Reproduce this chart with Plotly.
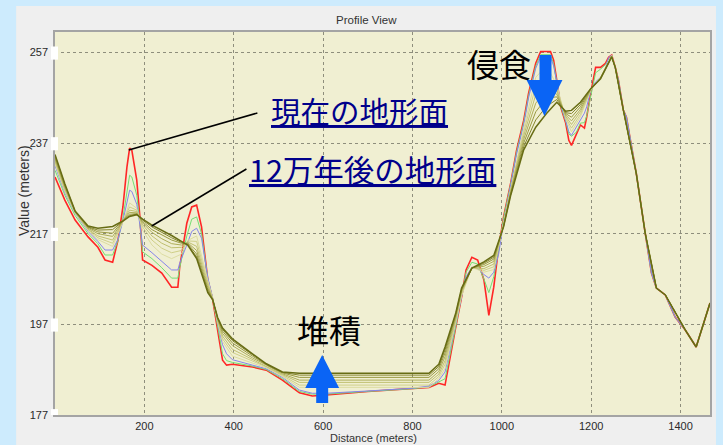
import plotly.graph_objects as go

# ---------------- data ----------------
distance = [0, 22, 45, 74, 96, 112, 129, 141, 152, 161, 167, 172, 183, 190, 196, 217, 239, 261, 275, 279,
            295, 306, 317, 328, 342, 353, 364, 375, 384, 397, 442, 473, 509, 547, 576, 607, 700, 800, 837, 859,
            873, 897, 910, 920, 933, 946, 960, 971, 982, 993, 1004, 1020, 1033, 1049, 1060, 1076, 1087, 1109,
            1116, 1123, 1132, 1143, 1150, 1156, 1167, 1176, 1185, 1190, 1199, 1210, 1221, 1232, 1239, 1246,
            1254, 1261, 1272, 1279, 1288, 1301, 1321, 1335, 1346, 1366, 1388, 1411, 1435, 1451, 1466]

elev_now = [229.5, 224.4, 220.0, 216.3, 214.0, 211.2, 210.7, 215.6, 222.9, 231.7, 235.9, 235.4, 228.8, 220.7,
            211.2, 210.0, 208.3, 205.2, 205.2, 209.6, 219.3, 222.9, 223.3, 218.5, 206.8, 202.4, 195.7, 189.1,
            188.0, 188.2, 187.6, 186.9, 184.7, 181.9, 181.2, 181.4, 182.2, 182.8, 183.1, 184.0, 183.6, 196.4,
            203.0, 209.0, 211.8, 211.2, 206.8, 199.0, 205.2, 214.0, 220.7, 228.2, 235.4, 242.0, 248.0, 254.6,
            257.2, 257.2, 255.3, 250.9, 244.9, 241.4, 237.6, 236.5, 239.2, 241.0, 240.3, 242.7, 248.0, 253.7,
            253.7, 254.6, 255.9, 256.4, 253.7, 250.9, 244.3, 242.7, 237.6, 230.3, 217.1, 208.3, 205.0, 203.5,
            198.6, 195.7, 192.0, 197.3, 201.7]

elev_stage2 = [231.0, 225.5, 221.0, 217.0, 214.8, 212.3, 212.3, 215.5, 220.5, 226.5, 229.9, 229.5, 225.5, 219.5,
               213.0, 211.5, 209.5, 207.2, 207.2, 209.5, 216.5, 220.2, 220.7, 217.0, 207.0, 202.6, 196.5, 190.5,
               189.0, 188.6, 187.8, 187.0, 185.0, 182.2, 181.6, 181.6, 182.2, 182.8, 183.2, 184.2, 185.0, 196.5,
               203.0, 208.5, 210.7, 210.3, 207.0, 204.0, 207.5, 213.5, 220.5, 228.0, 235.0, 241.5, 247.5, 254.0,
               256.5, 256.5, 254.5, 250.5, 245.0, 241.8, 239.0, 238.5, 239.4, 241.4, 241.5, 243.0, 247.5, 252.5,
               253.3, 254.3, 255.5, 256.2, 253.7, 250.9, 244.3, 242.7, 237.6, 230.3, 217.1, 208.3, 205.0, 203.5,
               198.6, 195.7, 192.0, 197.3, 201.7]

elev_stage3 = [232.0, 226.0, 221.5, 217.5, 215.3, 213.4, 213.4, 215.8, 219.8, 224.0, 226.6, 226.3, 223.5, 219.0,
               214.5, 212.8, 211.0, 209.0, 209.0, 210.5, 214.5, 217.5, 218.2, 216.0, 207.3, 202.8, 197.3, 192.5,
               190.5, 189.2, 188.0, 187.2, 185.3, 182.5, 181.8, 181.8, 182.3, 182.9, 183.4, 184.6, 186.5, 197.0,
               203.0, 207.5, 209.6, 209.3, 208.0, 207.2, 208.5, 212.5, 219.5, 227.5, 234.5, 241.0, 247.0, 253.5,
               256.0, 256.0, 254.0, 250.5, 245.5, 242.0, 239.5, 238.7, 240.5, 242.2, 243.6, 245.0, 248.6, 250.5,
               251.5, 253.5, 255.9, 256.4, 253.7, 250.9, 244.3, 242.7, 237.6, 230.3, 217.1, 208.3, 205.0, 203.5,
               198.6, 195.7, 192.0, 197.3, 201.7]

distance_olive = [0, 22, 45, 74, 96, 129, 152, 167, 183, 196, 217, 239, 261, 283, 297, 317, 342, 353, 364, 375,
                  397, 442, 473, 509, 547, 576, 700, 837, 859, 873, 897, 910, 933, 960, 982, 1004, 1020, 1049,
                  1076, 1100, 1123, 1143, 1156, 1176, 1199, 1221, 1246, 1254, 1272, 1301, 1321, 1346, 1366,
                  1411, 1435, 1451, 1466]

olive_1 = [232.4, 226.3, 221.6, 217.7, 215.7, 214.2, 219.6, 223.8, 222.6, 217.8, 214.5, 212.5, 211.5, 212.5,
           215.5, 216.5, 206.7, 202.7, 197.5, 193.2, 190.0, 188.4, 187.4, 185.5, 183.1, 183.1, 183.1, 183.1,
           185.0, 187.3, 197.4, 203.3, 209.6, 208.5, 209.1, 219.3, 227.2, 240.2, 251.5, 254.1, 249.8, 242.3,
           239.5, 242.8, 248.6, 251.5, 256.3, 253.7, 244.3, 230.3, 217.1, 205.0, 203.5, 195.7, 192.0, 197.3, 201.7]
olive_2 = [232.8, 226.6, 221.7, 217.9, 216.1, 214.9, 219.7, 222.9, 222.2, 218.5, 215.6, 213.8, 212.8, 213.3,
           215.4, 215.3, 206.1, 202.7, 197.7, 193.8, 190.8, 188.8, 187.6, 185.7, 183.6, 183.6, 183.6, 183.6,
           185.5, 188.2, 197.8, 203.6, 209.6, 208.9, 209.7, 219.2, 226.9, 239.4, 249.6, 252.3, 249.2, 242.6,
           240.3, 243.3, 248.7, 251.4, 256.3, 253.7, 244.3, 230.3, 217.1, 205.0, 203.5, 195.7, 192.0, 197.3, 201.7]
olive_3 = [233.1, 226.9, 221.7, 218.0, 216.5, 215.6, 219.8, 222.2, 221.9, 219.0, 216.5, 214.9, 213.9, 214.0,
           215.2, 214.2, 205.6, 202.6, 197.9, 194.4, 191.5, 189.2, 187.8, 185.9, 184.2, 184.2, 184.2, 184.2,
           186.0, 189.0, 198.2, 204.0, 209.5, 209.3, 210.3, 219.0, 226.6, 238.6, 247.7, 250.5, 248.5, 242.9,
           241.1, 243.9, 248.8, 251.4, 256.2, 253.7, 244.3, 230.3, 217.1, 205.0, 203.5, 195.7, 192.0, 197.3, 201.7]
olive_4 = [233.5, 227.2, 221.8, 218.2, 217.0, 216.4, 219.8, 221.7, 221.6, 219.4, 217.3, 215.9, 214.8, 214.5,
           215.0, 213.3, 205.1, 202.5, 198.1, 195.0, 192.3, 189.6, 188.0, 186.1, 184.7, 184.7, 184.7, 184.7,
           186.6, 189.9, 198.6, 204.3, 209.5, 209.8, 210.9, 218.9, 226.3, 237.8, 245.8, 248.7, 247.8, 243.2,
           241.9, 244.4, 248.8, 251.3, 256.2, 253.7, 244.3, 230.3, 217.1, 205.0, 203.5, 195.7, 192.0, 197.3, 201.7]
olive_5 = [233.8, 227.5, 221.9, 218.4, 217.4, 217.1, 219.9, 221.3, 221.4, 219.7, 217.9, 216.7, 215.6, 214.9,
           214.8, 212.5, 204.7, 202.5, 198.3, 195.5, 192.9, 190.0, 188.1, 186.3, 185.3, 185.3, 185.3, 185.3,
           187.2, 190.7, 199.0, 204.6, 209.4, 210.2, 211.4, 218.7, 226.0, 237.0, 243.9, 246.9, 247.2, 243.5,
           242.7, 245.0, 248.9, 251.3, 256.1, 253.7, 244.3, 230.3, 217.1, 205.0, 203.5, 195.7, 192.0, 197.3, 201.7]
olive_6 = [234.2, 227.8, 222.0, 218.5, 217.8, 217.9, 219.8, 221.0, 221.3, 220.0, 218.5, 217.3, 216.1, 215.1,
           214.6, 211.9, 204.3, 202.4, 198.4, 195.9, 193.4, 190.3, 188.2, 186.4, 185.8, 185.8, 185.8, 185.8,
           187.7, 191.4, 199.3, 204.8, 209.4, 210.5, 211.8, 218.6, 225.7, 236.2, 242.1, 245.1, 246.6, 243.7,
           243.5, 245.5, 249.0, 251.2, 256.0, 253.7, 244.3, 230.3, 217.1, 205.0, 203.5, 195.7, 192.0, 197.3, 201.7]
elev_120ka = [234.5, 228.0, 222.0, 218.7, 218.2, 218.6, 219.8, 220.8, 221.2, 220.2, 218.9, 217.8, 216.6, 215.3,
              214.5, 211.5, 204.0, 202.4, 198.5, 196.2, 193.8, 190.5, 188.3, 186.5, 186.2, 186.2, 186.2, 186.2,
              188.2, 192.0, 199.5, 205.0, 209.4, 210.8, 212.2, 218.5, 225.5, 235.5, 240.5, 243.5, 246.0, 244.0,
              244.2, 246.0, 249.0, 251.2, 256.0, 253.7, 244.3, 230.3, 217.1, 205.0, 203.5, 195.7, 192.0, 197.3, 201.7]

x_ticks = [200, 400, 600, 800, 1000, 1200, 1400]
y_ticks = [177, 197, 217, 237, 257]
x_range = [0, 1466]
y_range = [177, 261.5]

# ---------------- figure ----------------
W, H = 723, 445
ML, MR, MT, MB = 55, 11, 32, 30
PW, PH = W - ML - MR, H - MT - MB


def px(x):
    return (x - ML) / PW


def py(y):
    return (H - MB - y) / PH


fig = go.Figure()

series = [
    (distance, elev_now, "#ff2626", 1.6),
    (distance, elev_stage2, "#74de74", 1.0),
    (distance, elev_stage3, "#8585ec", 1.0),
    (distance_olive, olive_1, "#dcdca2", 1.0),
    (distance_olive, olive_2, "#cfcf88", 1.0),
    (distance_olive, olive_3, "#c0c070", 1.0),
    (distance_olive, olive_4, "#adad58", 1.0),
    (distance_olive, olive_5, "#999940", 1.0),
    (distance_olive, olive_6, "#85852c", 1.0),
    (distance_olive, elev_120ka, "#676c14", 1.5),
]
for xs, ys, col, w in series:
    fig.add_trace(go.Scatter(x=xs, y=ys, mode="lines", line=dict(color=col, width=w),
                             showlegend=False, hoverinfo="skip"))

axis_font = dict(family="Liberation Sans, Arial, sans-serif", size=11, color="#2a2a2a")
common = dict(showgrid=True, gridcolor="#8e8e7c", griddash="dot", gridwidth=1,
              showline=True, mirror=True, linecolor="#a4a4a4", linewidth=1.5,
              zeroline=False, tickfont=axis_font, ticks="outside",
              tickcolor="rgba(0,0,0,0)")

shapes = [
    # grey window panel
    dict(type="rect", xref="paper", yref="paper", layer="below",
         x0=px(16), x1=px(718), y0=py(446), y1=py(6),
         fillcolor="#efefef", line=dict(width=0)),
    # plot area background
    dict(type="rect", xref="paper", yref="paper", layer="below",
         x0=0, x1=1, y0=0, y1=1, fillcolor="#f0efd2", line=dict(width=0)),
    # leader lines
    dict(type="line", xref="paper", yref="paper", x0=px(258), y0=py(113), x1=px(129), y1=py(150),
         line=dict(color="black", width=1.5)),
    dict(type="line", xref="paper", yref="paper", x0=px(247), y0=py(169), x1=px(152), y1=py(226),
         line=dict(color="black", width=1.5)),
]

# white tick boxes on the y axis
for v in y_ticks:
    shapes.append(dict(type="rect", xref="paper", yref="y", layer="above",
                       x0=px(51), x1=px(58), y0=v - 1.6, y1=v + 1.3,
                       fillcolor="white", line=dict(width=0)))


def poly(points):
    return "M " + " L ".join(f"{px(a):.5f},{py(b):.5f}" for a, b in points) + " Z"


blue = "#0a64f5"
# erosion arrow (down)
shapes.append(dict(type="path", xref="paper", yref="paper", layer="above",
                   path=poly([(541, 55), (553, 55), (553, 80), (564, 80), (546, 116), (528, 80), (541, 80)]),
                   fillcolor=blue, line=dict(width=0)))
# deposition arrow (up)
shapes.append(dict(type="path", xref="paper", yref="paper", layer="above",
                   path=poly([(317, 403), (329, 403), (329, 388), (340, 388), (323, 355), (306, 388), (317, 388)]),
                   fillcolor=blue, line=dict(width=0)))

jp = "Noto Sans CJK JP, sans-serif"
sans = "Liberation Sans, Arial, sans-serif"


def note(x, y, text, font, xanchor="left", yanchor="middle", **kw):
    return dict(x=px(x), y=py(y), xref="paper", yref="paper", text=text, showarrow=False,
                xanchor=xanchor, yanchor=yanchor, font=font, **kw)


annotations = [
    note(367, 20, "Profile View", dict(family=sans, size=11.5, color="#333"), xanchor="center"),
    note(24, 191, "Value (meters)", dict(family=sans, size=14, color="#333"), xanchor="center",
         textangle=-90),
    note(374, 446, "Distance (meters)", dict(family=sans, size=11, color="#333"), xanchor="center",
         yanchor="bottom"),
    note(270, 110, "<u>現在の地形面</u>", dict(family=jp, size=29.5, color="#00008b")),
    note(248, 169, "<u>12万年後の地形面</u>", dict(family=jp, size=30.5, color="#00008b")),
    note(466, 63, "侵食", dict(family=jp, size=32, color="black")),
    note(296, 329, "堆積", dict(family=jp, size=32, color="black")),
]

fig.update_layout(
    width=W, height=H,
    margin=dict(l=ML, r=MR, t=MT, b=MB, pad=0),
    paper_bgcolor="#cdebfd",
    plot_bgcolor="rgba(0,0,0,0)",
    xaxis=dict(range=x_range, tickvals=x_ticks, ticklen=0, **common),
    yaxis=dict(range=y_range, tickvals=y_ticks, ticklen=3, **common),
    shapes=shapes,
    annotations=annotations,
    showlegend=False,
)

fig.write_html("out.html")
